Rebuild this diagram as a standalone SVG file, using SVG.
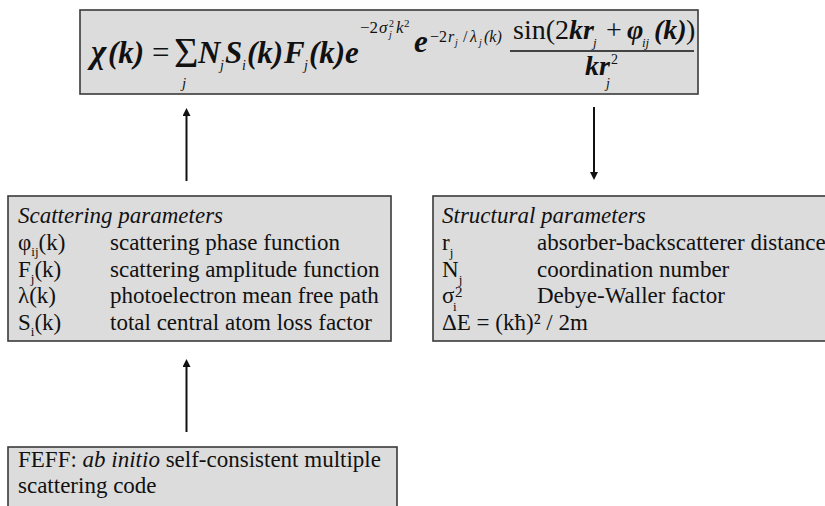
<svg xmlns="http://www.w3.org/2000/svg" width="825" height="506" viewBox="0 0 825 506" font-family="Liberation Serif, Times New Roman, serif">
<style>
.box{fill:#dcdcdc;stroke:#3a3a3a;stroke-width:1.6}
.r23{font-size:23px}
.i{font-style:italic}
.bi{font-weight:bold;font-style:italic}
.m{font-weight:bold;font-style:italic;font-size:31px}
.sub{font-size:13px}
.conn{stroke:#111;stroke-width:2;fill:none}
</style>
<defs>
<marker id="ah" viewBox="0 0 10 10" refX="0" refY="5" markerWidth="8" markerHeight="8" markerUnits="userSpaceOnUse" orient="auto">
<path d="M0,0 L10,5 L0,10 z" fill="#111"/>
</marker>
</defs>
<g id="formula" fill="#111">
<rect class="box" x="80" y="10" width="618" height="84"/>
<text class="bi" font-size="33" x="91" y="63">χ</text>
<text class="m" x="108" y="63">(k)</text>
<text font-size="31" x="152" y="63">=</text>
<text font-size="42" x="174" y="67">Σ</text>
<text class="i" font-size="15" x="182" y="88">j</text>
<text class="m" x="198" y="63">N</text>
<text class="i" font-size="14" x="220" y="70">j</text>
<text class="m" x="225" y="63">S</text>
<text class="i" font-size="14" x="242" y="70">i</text>
<text class="m" x="247" y="63">(k)</text>
<text class="m" x="284" y="63">F</text>
<text class="i" font-size="14" x="304" y="70">j</text>
<text class="m" x="309" y="63">(k)</text>
<text class="m" x="345" y="63">e</text>
<text font-size="17" x="360" y="33">−2</text>
<text class="i" font-size="17" x="379" y="33">σ</text>
<text class="i" font-size="10" x="389" y="38">j</text>
<text font-size="10" x="389" y="27">2</text>
<text class="i" font-size="17" x="396" y="33">k</text>
<text font-size="11" x="404" y="27">2</text>
<text class="m" x="414" y="52">e</text>
<text font-size="16" x="430" y="42">−2</text>
<text class="i" font-size="16" x="448" y="42">r</text>
<text class="i" font-size="10" x="455" y="46">j</text>
<text font-size="16" x="463" y="42">/</text>
<text class="i" font-size="16" x="470" y="42">λ</text>
<text class="i" font-size="10" x="479" y="46">j</text>
<text class="i" font-size="16" x="484" y="42">(k)</text>
<text font-size="28" x="513" y="39">sin(2</text>
<text class="bi" font-size="28" x="569" y="39">kr</text>
<text class="i" font-size="13" x="593" y="47">j</text>
<text font-size="28" x="606" y="39">+</text>
<text class="bi" font-size="28" x="627" y="39">φ</text>
<text class="i" font-size="13" x="642" y="47">ij</text>
<text class="bi" font-size="28" x="654" y="39">(k)</text>
<text font-size="28" x="686" y="39">)</text>
<line x1="510" y1="51" x2="694" y2="51" stroke="#111" stroke-width="1.5"/>
<text class="bi" font-size="28" x="585" y="75">kr</text>
<text font-size="14" x="611" y="64">2</text>
<text class="i" font-size="14" x="606" y="88">j</text>
</g>
<g id="scattering" fill="#111">
<rect class="box" x="8" y="196" width="383" height="145"/>
<text class="i r23" x="18" y="223">Scattering parameters</text>
<text class="r23" x="18" y="250">φ<tspan class="sub" dy="6">ij</tspan><tspan dy="-6">(k)</tspan></text>
<text class="r23" x="110" y="250">scattering phase function</text>
<text class="r23" x="18" y="277">F<tspan class="sub" dy="6">j</tspan><tspan dy="-6">(k)</tspan></text>
<text class="r23" x="110" y="277">scattering amplitude function</text>
<text class="r23" x="18" y="303">λ(k)</text>
<text class="r23" x="110" y="303">photoelectron mean free path</text>
<text class="r23" x="18" y="330">S<tspan class="sub" dy="6">i</tspan><tspan dy="-6">(k)</tspan></text>
<text class="r23" x="110" y="330">total central atom loss factor</text>
</g>
<g id="structural" fill="#111">
<rect class="box" x="433" y="196" width="400" height="145"/>
<text class="i r23" x="442" y="223">Structural parameters</text>
<text class="r23" x="442" y="250">r<tspan class="sub" dy="7">j</tspan></text>
<text class="r23" x="537" y="250">absorber-backscatterer distance</text>
<text class="r23" x="442" y="277">N<tspan class="sub" dy="7">j</tspan></text>
<text class="r23" x="537" y="277">coordination number</text>
<text class="r23" x="442" y="303">σ</text>
<text class="sub" x="453" y="311">i</text>
<text font-size="15" x="455" y="297">2</text>
<text class="r23" x="537" y="303">Debye-Waller factor</text>
<text class="r23" x="442" y="330">ΔE = (kħ)² / 2m</text>
</g>
<g id="feff" fill="#111">
<rect class="box" x="8" y="447" width="389" height="70"/>
<text class="r23" x="18" y="467">FEFF: <tspan class="i">ab initio</tspan> self-consistent multiple</text>
<text class="r23" x="18" y="493">scattering code</text>
</g>
<g id="connectors">
<line class="conn" x1="186.5" y1="181" x2="186.5" y2="116" marker-end="url(#ah)"/>
<line class="conn" x1="594" y1="107" x2="594" y2="172" marker-end="url(#ah)"/>
<line class="conn" x1="186.5" y1="432" x2="186.5" y2="367" marker-end="url(#ah)"/>
</g>
</svg>
